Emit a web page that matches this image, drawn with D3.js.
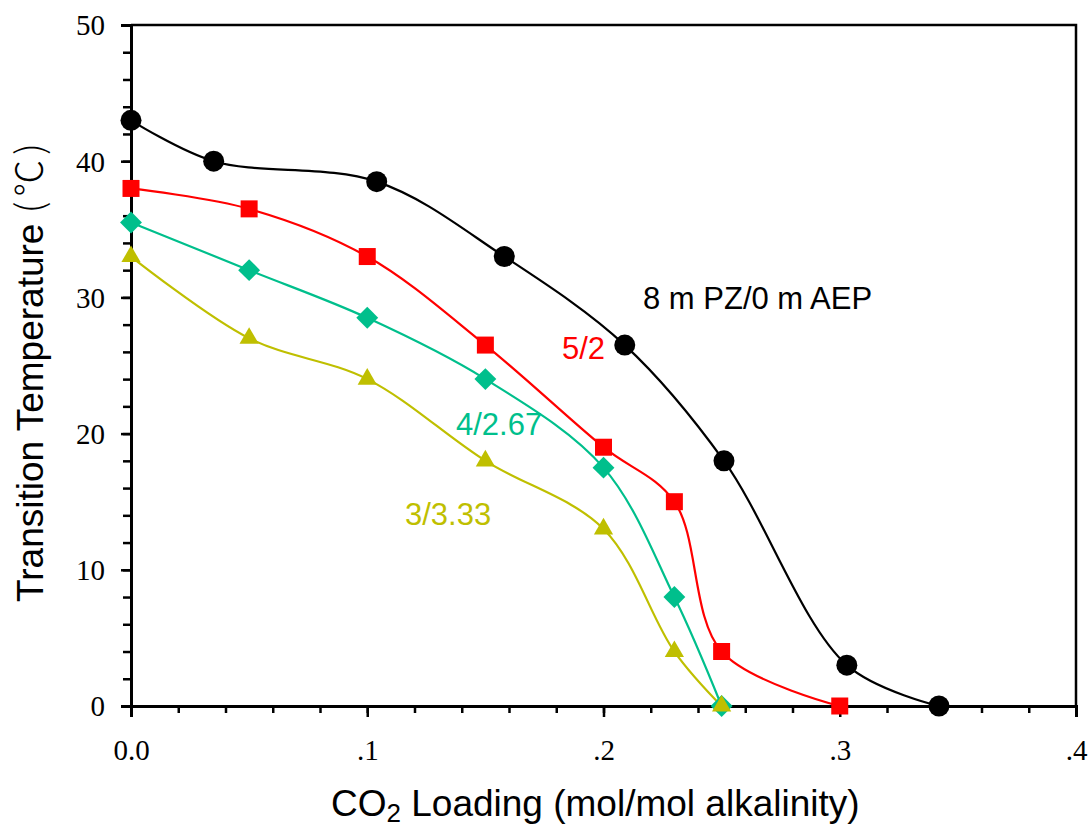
<!DOCTYPE html>
<html>
<head>
<meta charset="utf-8">
<script src="https://cdn.jsdelivr.net/npm/d3@7"></script>
<style>
  html, body { margin: 0; padding: 0; background: #fff; }
  svg { display: block; }
</style>
</head>
<body>
<svg id="chart" width="1089" height="827"></svg>
<script>
// ---- data ----
const blackX = [0, 0.035, 0.104, 0.158, 0.209, 0.251, 0.303, 0.342];
const blackY = [43, 40, 38.5, 33, 26.5, 18, 3, 0];
const redX = [0, 0.05, 0.1, 0.15, 0.2, 0.23, 0.25, 0.3];
const redY = [38, 36.5, 33, 26.5, 19, 15, 4, 0];
const tealX = [0, 0.05, 0.1, 0.15, 0.2, 0.23, 0.25];
const tealY = [35.5, 32, 28.5, 24, 17.5, 8, 0];
const yellowX = [0, 0.05, 0.1, 0.15, 0.2, 0.23, 0.25];
const yellowY = [33, 27, 24, 18, 13, 4, 0];
const seriesNames = ["8 m PZ/0 m AEP", "5/2", "4/2.67", "3/3.33"];
const xTicks = [0, 0.1, 0.2, 0.3, 0.4];
const xTickLabels = ["0.0", ".1", ".2", ".3", ".4"];
const yTicks = [0, 10, 20, 30, 40, 50];
const yTickLabels = ["0", "10", "20", "30", "40", "50"];

// ---- layout ----
const svg = d3.select("#chart");
const L = 131, R = 1076, T = 25, B = 706;
const x = d3.scaleLinear().domain([0, 0.4]).range([L, R]);
const y = d3.scaleLinear().domain([0, 50]).range([B, T]);

const series = [
  { name: seriesNames[0], xs: blackX, ys: blackY, color: "#000000", shape: "circle", lx: 643, ly: 309 },
  { name: seriesNames[1], xs: redX, ys: redY, color: "#ff0000", shape: "square", lx: 562, ly: 359 },
  { name: seriesNames[2], xs: tealX, ys: tealY, color: "#00bf8c", shape: "diamond", lx: 456, ly: 435 },
  { name: seriesNames[3], xs: yellowX, ys: yellowY, color: "#bfbf00", shape: "triangle", lx: 405, ly: 525 }
];

// frame (top, right)
svg.append("path")
  .attr("d", `M${L},${T}H${R}V${B}`)
  .attr("fill", "none").attr("stroke", "#000").attr("stroke-width", 2.5);

// minor ticks
const xMinor = svg.append("g").attr("transform", `translate(0,${B})`)
  .call(d3.axisBottom(x).tickValues(d3.range(0, 0.4001, 0.02)).tickSize(7).tickFormat(""));
const yMinor = svg.append("g").attr("transform", `translate(${L},0)`)
  .call(d3.axisLeft(y).tickValues(d3.range(0, 50.01, 2)).tickSize(8).tickFormat(""));
[xMinor, yMinor].forEach(g => {
  g.select(".domain").remove();
  g.selectAll("line").attr("stroke", "#000").attr("stroke-width", 2.5);
});

// major axes
const xAxis = svg.append("g").attr("transform", `translate(0,${B})`)
  .call(d3.axisBottom(x).tickValues(xTicks).tickSize(11).tickPadding(0)
    .tickFormat((d, i) => xTickLabels[i]));
const yAxis = svg.append("g").attr("transform", `translate(${L},0)`)
  .call(d3.axisLeft(y).tickValues(yTicks).tickSize(10).tickPadding(16)
    .tickFormat((d, i) => yTickLabels[i]));
[xAxis, yAxis].forEach(g => {
  g.select(".domain").attr("stroke", "#000").attr("stroke-width", 3);
  g.selectAll("line").attr("stroke", "#000").attr("stroke-width", 2.5);
  g.selectAll("text")
    .attr("font-family", "'Liberation Serif', 'Times New Roman', serif")
    .attr("font-size", 29).attr("fill", "#000");
});
xAxis.selectAll("text").attr("y", 54).attr("dy", 0);
yAxis.selectAll("text").attr("dy", "0.34em");

// curves
const line = d3.line()
  .x(d => x(d[0])).y(d => y(d[1]))
  .curve(d3.curveCatmullRom.alpha(0.5));

series.forEach(s => {
  const pts = s.xs.map((v, i) => [v, s.ys[i]]);
  svg.append("path").datum(pts)
    .attr("d", line)
    .attr("fill", "none").attr("stroke", s.color).attr("stroke-width", 2.2);
});

// markers
const sym = {
  circle: d3.symbol().type(d3.symbolCircle).size(Math.PI * 10.5 * 10.5),
  square: d3.symbol().type(d3.symbolSquare).size(17 * 17),
  diamond: d3.symbol().type(d3.symbolSquare).size(15.5 * 15.5),
  triangle: d3.symbol().type(d3.symbolTriangle).size(160)
};
series.forEach(s => {
  const pts = s.xs.map((v, i) => [v, s.ys[i]]);
  svg.append("g").selectAll("path").data(pts).join("path")
    .attr("d", sym[s.shape])
    .attr("transform", d => `translate(${x(d[0])},${y(d[1])})` + (s.shape === "diamond" ? " rotate(45)" : ""))
    .attr("fill", s.color);
});

// series labels
series.forEach(s => {
  svg.append("text")
    .attr("x", s.lx).attr("y", s.ly)
    .attr("font-family", "'Liberation Sans', Arial, sans-serif")
    .attr("font-size", 31)
    .attr("fill", s.color)
    .text(s.name);
});

// x title
const xt = svg.append("text")
  .attr("x", 331).attr("y", 816)
  .attr("font-family", "'Liberation Sans', Arial, sans-serif")
  .attr("font-size", 37).attr("fill", "#000");
xt.append("tspan").text("CO");
xt.append("tspan").attr("font-size", 26).attr("dy", 6).text("2");
xt.append("tspan").attr("dy", -6).text(" Loading (mol/mol alkalinity)");

// y title
const yt = svg.append("text")
  .attr("transform", "translate(43,602) rotate(-90)")
  .attr("x", 0).attr("y", 0)
  .attr("font-family", "'Liberation Sans', Arial, sans-serif")
  .attr("font-size", 37).attr("fill", "#000");
yt.append("tspan").text("Transition Temperature ");
yt.append("tspan").attr("font-family", "'Noto Sans CJK SC', sans-serif").attr("font-weight", 300)
  .attr("letter-spacing", 5).text("(℃)");
</script>
</body>
</html>
